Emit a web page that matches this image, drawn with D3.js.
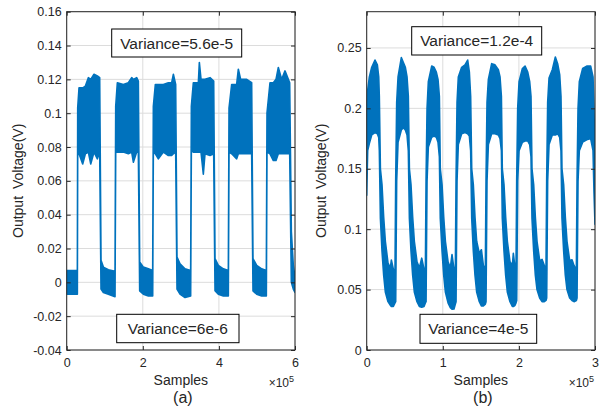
<!DOCTYPE html>
<html><head><meta charset="utf-8">
<script src="https://cdn.jsdelivr.net/npm/d3@7/dist/d3.min.js"></script>
<style>
body{margin:0;background:#fff}
svg{display:block}
text{font-family:"Liberation Sans",Arial,Helvetica,sans-serif;fill:#262626}
</style>
</head><body>
<svg id="c" width="605" height="413"></svg>
<script>
// ---------- DATA (x in units of 1e5 samples, envelope hi/lo in volts) ----------
const aX  = [0,0.280,0.289,0.324,0.420,0.491,0.569,0.631,0.718,0.806,0.867,0.902,0.964,1.095,1.270,
  1.288,1.331,1.489,1.620,1.708,1.752,1.839,1.883,1.918,2.015,2.146,2.260,
  2.277,2.330,2.409,2.540,2.672,2.759,2.803,2.864,2.899,2.978,3.109,3.258,
  3.276,3.328,3.460,3.486,3.530,3.591,3.635,3.766,3.863,3.898,3.985,4.117,4.248,
  4.266,4.336,4.467,4.511,4.572,4.730,4.861,4.896,4.993,5.124,5.247,
  5.264,5.343,5.431,5.501,5.562,5.650,5.737,5.825,5.860,5.904,5.956,6.000];
const aHi = [0.007,0.007,0.103,0.115,0.115,0.116,0.121,0.120,0.123,0.122,0.121,0.013,0.009,0.0075,0.0065,
  0.104,0.118,0.117,0.118,0.121,0.120,0.121,0.119,0.012,0.009,0.008,0.007,
  0.104,0.117,0.117,0.117,0.118,0.118,0.123,0.117,0.015,0.011,0.008,0.007,
  0.104,0.118,0.118,0.130,0.120,0.120,0.120,0.121,0.119,0.014,0.010,0.008,0.007,
  0.103,0.117,0.117,0.126,0.120,0.120,0.118,0.014,0.010,0.008,0.007,
  0.100,0.118,0.118,0.120,0.127,0.120,0.125,0.120,0.118,0.030,0.010,0.003];
const aLo = [-0.007,-0.007,0.078,0.076,0.070,0.076,0.077,0.070,0.077,0.073,0.077,-0.004,-0.006,-0.007,-0.0085,
  0.077,0.077,0.077,0.076,0.077,0.071,0.077,0.077,-0.005,-0.007,-0.008,-0.008,
  0.077,0.076,0.073,0.077,0.075,0.075,0.076,0.077,-0.004,-0.007,-0.009,-0.008,
  0.078,0.077,0.077,0.077,0.077,0.064,0.076,0.075,0.076,-0.005,-0.007,-0.008,-0.008,
  0.077,0.076,0.073,0.076,0.076,0.076,0.076,-0.005,-0.007,-0.008,-0.008,
  0.077,0.076,0.072,0.072,0.076,0.076,0.076,0.076,0.077,0.000,-0.004,-0.006];

const bX  = [0,0.013,0.035,0.066,0.109,0.140,0.158,0.166,0.180,0.201,0.223,0.245,0.280,0.311,0.324,0.350,0.372,
  0.381,0.394,0.412,0.455,0.482,0.508,0.530,0.547,0.561,0.582,0.604,0.626,0.661,0.692,0.723,0.753,0.771,
  0.780,0.793,0.810,0.854,0.885,0.915,0.937,0.955,0.967,0.990,1.012,1.034,1.069,1.099,1.121,1.147,1.165,
  1.174,1.187,1.204,1.248,1.292,1.327,1.349,1.366,1.380,1.401,1.423,1.445,1.480,1.507,1.533,1.559,
  1.568,1.581,1.599,1.642,1.686,1.730,1.752,1.770,1.782,1.804,1.826,1.848,1.883,1.914,1.927,1.949,1.962,
  1.971,1.984,2.002,2.046,2.081,2.116,2.142,2.159,2.172,2.194,2.216,2.238,2.273,2.304,2.334,2.356,
  2.365,2.378,2.396,2.439,2.479,2.509,2.536,2.553,2.566,2.588,2.610,2.632,2.667,2.698,2.724,2.755,
  2.764,2.777,2.794,2.838,2.891,2.943,2.974,2.987,3.000];
const bHi = [0.205,0.215,0.226,0.234,0.240,0.236,0.226,0.210,0.150,0.137,0.110,0.090,0.072,0.068,0.0745,0.067,0.065,
  0.140,0.205,0.226,0.242,0.238,0.234,0.226,0.210,0.150,0.137,0.110,0.090,0.073,0.068,0.076,0.067,0.065,
  0.140,0.200,0.222,0.235,0.234,0.230,0.224,0.210,0.150,0.137,0.110,0.090,0.073,0.068,0.079,0.067,0.065,
  0.140,0.205,0.226,0.234,0.236,0.240,0.230,0.210,0.150,0.137,0.110,0.090,0.080,0.083,0.070,0.066,
  0.140,0.205,0.224,0.237,0.236,0.232,0.226,0.210,0.150,0.137,0.110,0.090,0.073,0.070,0.080,0.068,0.065,
  0.140,0.200,0.222,0.233,0.235,0.230,0.222,0.210,0.150,0.137,0.110,0.090,0.074,0.075,0.070,0.066,
  0.140,0.205,0.225,0.232,0.2425,0.237,0.228,0.210,0.150,0.137,0.110,0.090,0.074,0.0746,0.070,0.066,
  0.140,0.200,0.222,0.233,0.235,0.235,0.226,0.200,0.150];
const bLo = [0.128,0.165,0.171,0.178,0.180,0.179,0.176,0.165,0.109,0.082,0.062,0.048,0.040,0.037,0.036,0.036,0.039,
  0.040,0.140,0.172,0.182,0.184,0.182,0.178,0.165,0.109,0.082,0.062,0.048,0.040,0.036,0.0354,0.036,0.039,
  0.040,0.140,0.168,0.176,0.177,0.176,0.172,0.160,0.109,0.082,0.062,0.048,0.039,0.035,0.0337,0.034,0.038,
  0.040,0.140,0.170,0.179,0.180,0.179,0.177,0.165,0.109,0.082,0.062,0.048,0.040,0.0365,0.0365,0.038,
  0.040,0.140,0.170,0.179,0.179,0.178,0.175,0.165,0.109,0.082,0.062,0.048,0.040,0.036,0.036,0.037,0.039,
  0.041,0.140,0.165,0.172,0.173,0.173,0.170,0.160,0.109,0.082,0.062,0.050,0.043,0.040,0.040,0.041,
  0.043,0.140,0.170,0.178,0.178,0.179,0.176,0.165,0.109,0.082,0.062,0.050,0.043,0.041,0.040,0.041,
  0.043,0.140,0.165,0.172,0.174,0.175,0.165,0.130,0.104];

const aXTicks = [0,2,4,6];
const aYTicks = [-0.04,-0.02,0,0.02,0.04,0.06,0.08,0.1,0.12,0.14,0.16];
const bXTicks = [0,1,2,3];
const bYTicks = [0,0.05,0.1,0.15,0.2,0.25];
const aNotes = ["Variance=5.6e-5","Variance=6e-6"];
const bNotes = ["Variance=1.2e-4","Variance=4e-5"];
const panelLabels = ["(a)","(b)"];
const xLabel = "Samples";
const yLabel = "Output Voltage(V)";

// ---------- DRAW ----------
const svg = d3.select("#c");
const BLUE = "#0072BD";

function panel(o){
  const g = svg.append("g");
  const x = d3.scaleLinear().domain(o.xDomain).range([o.left, o.left+o.w]);
  const y = d3.scaleLinear().domain(o.yDomain).range([o.top+o.h, o.top]);
  // grid
  g.append("g").selectAll("line").data(o.xTicks).join("line")
    .attr("x1",d=>x(d)).attr("x2",d=>x(d)).attr("y1",o.top).attr("y2",o.top+o.h)
    .attr("stroke","#dcdcdc").attr("stroke-width",1);
  g.append("g").selectAll("line").data(o.yTicks).join("line")
    .attr("x1",o.left).attr("x2",o.left+o.w).attr("y1",d=>y(d)).attr("y2",d=>y(d))
    .attr("stroke","#dcdcdc").attr("stroke-width",1);
  // data
  const cid = "clip"+o.id;
  svg.append("clipPath").attr("id",cid).append("rect")
    .attr("x",o.left).attr("y",o.top).attr("width",o.w).attr("height",o.h);
  const pts = o.X.map((v,i)=>({x:v,hi:o.Hi[i],lo:o.Lo[i]}));
  g.append("path").datum(pts)
    .attr("clip-path",`url(#${cid})`)
    .attr("d", d3.area().x(d=>x(d.x)).y0(d=>y(d.lo)).y1(d=>y(d.hi)))
    .attr("fill",BLUE).attr("stroke",BLUE).attr("stroke-width",1.6).attr("stroke-linejoin","round");
  // axes
  const tk = 4;
  const ax = g.append("g").attr("transform",`translate(0,${o.top+o.h})`)
    .call(d3.axisBottom(x).tickValues(o.xTicks).tickSize(-tk).tickPadding(8).tickFormat(d3.format("d")));
  const ay = g.append("g").attr("transform",`translate(${o.left},0)`)
    .call(d3.axisLeft(y).tickValues(o.yTicks).tickSize(-tk).tickPadding(5).tickFormat(o.yFmt));
  const at = g.append("g").attr("transform",`translate(0,${o.top})`)
    .call(d3.axisTop(x).tickValues(o.xTicks).tickSize(-tk).tickFormat(""));
  const ar = g.append("g").attr("transform",`translate(${o.left+o.w},0)`)
    .call(d3.axisRight(y).tickValues(o.yTicks).tickSize(-tk).tickFormat(""));
  [ax,ay,at,ar].forEach(a=>{
    a.select(".domain").remove();
    a.selectAll("line").attr("stroke","#262626");
    a.selectAll("text").attr("font-size",12.5).attr("fill","#262626")
      .style("font-family","'Liberation Sans',Arial,Helvetica,sans-serif");
  });
  g.append("rect").attr("x",o.left).attr("y",o.top).attr("width",o.w).attr("height",o.h)
    .attr("fill","none").attr("stroke","#262626").attr("stroke-width",1);
  // labels
  const cx = o.left+o.w/2;
  g.append("text").attr("x",cx).attr("y",o.top+o.h+35).attr("text-anchor","middle")
    .attr("font-size",14).text(xLabel);
  const ex = g.append("text").attr("x",o.left+o.w-1).attr("y",o.top+o.h+37).attr("text-anchor","end")
    .attr("font-size",12).attr("fill","#555");
  ex.append("tspan").text("\u00d710");
  ex.append("tspan").attr("dy",-5).attr("font-size",9).text("5");
  g.append("text").attr("x",cx+2).attr("y",o.top+o.h+53).attr("text-anchor","middle")
    .attr("font-size",16).text(o.label);
  g.append("text").attr("transform",`translate(${o.yLabX},${o.top+o.h/2}) rotate(-90)`)
    .attr("text-anchor","middle").attr("font-size",14).attr("word-spacing",3).text(yLabel);
  // annotation boxes
  o.notes.forEach((n,i)=>{
    const b = o.boxes[i];
    g.append("rect").attr("x",o.left+b[0]).attr("y",o.top+b[1]).attr("width",b[2]).attr("height",b[3])
      .attr("fill","#fff").attr("stroke","#000").attr("stroke-width",1);
    g.append("text").attr("x",o.left+b[0]+b[2]/2).attr("y",o.top+b[1]+b[3]/2+5.5)
      .attr("text-anchor","middle").attr("font-size",15.5).attr("fill","#000").text(n);
  });
}

const fmtA = d=> d===0 ? "0" : String(+d.toFixed(2));
panel({id:"a", left:66.7, top:11.7, w:228.3, h:338.3, xDomain:[0,6], yDomain:[-0.04,0.16],
  xTicks:aXTicks, yTicks:aYTicks, yFmt:fmtA, X:aX, Hi:aHi, Lo:aLo, notes:aNotes, label:panelLabels[0],
  yLabX:22.5, boxes:[[45,17.3,130,28],[50,302.6,122.3,28.4]]});
panel({id:"b", left:366.7, top:11.7, w:228.3, h:338.3, xDomain:[0,3], yDomain:[0,0.28],
  xTicks:bXTicks, yTicks:bYTicks, yFmt:fmtA, X:bX, Hi:bHi, Lo:bLo, notes:bNotes, label:panelLabels[1],
  yLabX:326, boxes:[[45,15,130,28.3],[53.3,302.6,116.7,29]]});
</script>
</body></html>
